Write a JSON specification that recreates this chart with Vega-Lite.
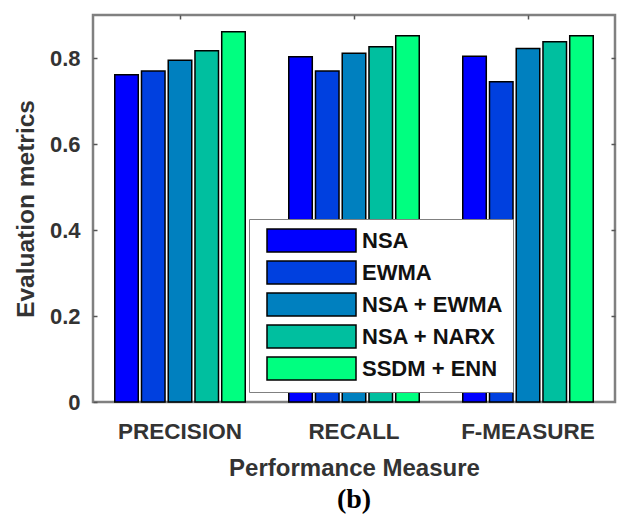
{
  "$schema": "https://vega.github.io/schema/vega-lite/v6.json",
  "width": 522,
  "height": 387,
  "autosize": {"type": "none"},
  "padding": {"left": 93, "top": 15, "right": 10, "bottom": 115},
  "background": "white",
  "title": {"text": "(b)", "orient": "bottom", "font": "Liberation Serif", "fontSize": 28, "fontWeight": "bold", "color": "black", "offset": 6},
  "config": {"view": {"stroke": "#808080", "strokeWidth": 2.5}},
  "data": {"values": [
    {"measure": "PRECISION", "method": "NSA", "value": 0.761},
    {"measure": "PRECISION", "method": "EWMA", "value": 0.770},
    {"measure": "PRECISION", "method": "NSA + EWMA", "value": 0.795},
    {"measure": "PRECISION", "method": "NSA + NARX", "value": 0.817},
    {"measure": "PRECISION", "method": "SSDM + ENN", "value": 0.861},
    {"measure": "RECALL", "method": "NSA", "value": 0.803},
    {"measure": "RECALL", "method": "EWMA", "value": 0.770},
    {"measure": "RECALL", "method": "NSA + EWMA", "value": 0.811},
    {"measure": "RECALL", "method": "NSA + NARX", "value": 0.826},
    {"measure": "RECALL", "method": "SSDM + ENN", "value": 0.852},
    {"measure": "F-MEASURE", "method": "NSA", "value": 0.804},
    {"measure": "F-MEASURE", "method": "EWMA", "value": 0.745},
    {"measure": "F-MEASURE", "method": "NSA + EWMA", "value": 0.822},
    {"measure": "F-MEASURE", "method": "NSA + NARX", "value": 0.838},
    {"measure": "F-MEASURE", "method": "SSDM + ENN", "value": 0.852}
  ]},
  "layer": [
    {
      "mark": {"type": "bar", "stroke": "black", "strokeWidth": 1.5},
      "encoding": {
        "x": {"field": "measure", "type": "nominal", "sort": ["PRECISION", "RECALL", "F-MEASURE"],
          "scale": {"paddingInner": 0.25, "paddingOuter": 0.125},
          "axis": {"title": "Performance Measure", "labelAngle": 0, "ticks": false, "tickSize": 0, "domain": false,
            "labelFont": "Liberation Sans", "labelFontSize": 22.5, "labelFontWeight": "bold", "labelColor": "#333333",
            "labelBaseline": "alphabetic", "labelPadding": 36,
            "titleFont": "Liberation Sans", "titleFontSize": 24, "titleFontWeight": "bold", "titleColor": "#333333",
            "titleBaseline": "alphabetic", "titleY": 73}},
        "xOffset": {"field": "method", "type": "nominal", "sort": ["NSA", "EWMA", "NSA + EWMA", "NSA + NARX", "SSDM + ENN"],
          "scale": {"paddingInner": 0.12, "paddingOuter": 0}},
        "y": {"field": "value", "type": "quantitative", "scale": {"domain": [0, 0.9], "nice": false},
          "axis": {"title": "Evaluation metrics", "values": [0, 0.2, 0.4, 0.6, 0.8], "format": "~g", "grid": false, "domain": false,
            "tickSize": -4, "tickColor": "#555555", "tickWidth": 1.5,
            "labelFont": "Liberation Sans", "labelFontSize": 22, "labelFontWeight": "bold", "labelColor": "#333333", "labelPadding": 17,
            "titleFont": "Liberation Sans", "titleFontSize": 24.5, "titleFontWeight": "bold", "titleColor": "#333333",
            "titleAngle": -90, "titleBaseline": "alphabetic", "titleAlign": "center", "titleX": -60, "titleY": 193.5}},
        "color": {"field": "method", "type": "nominal",
          "scale": {"domain": ["NSA", "EWMA", "NSA + EWMA", "NSA + NARX", "SSDM + ENN"], "range": ["#0000FF", "#0040DF", "#0080BF", "#00BF9F", "#00FF80"]},
          "legend": {"orient": "none", "legendX": 156, "legendY": 204, "title": null,
            "fillColor": "white", "strokeColor": "#808080", "padding": 9,
            "symbolType": "M-1,-1H6.74V1H-1Z", "symbolSize": 529, "symbolStrokeColor": "black", "symbolStrokeWidth": 1.5, "symbolOpacity": 1,
            "symbolOffset": 8,
            "labelFont": "Liberation Sans", "labelFontSize": 22, "labelFontWeight": "bold", "labelColor": "#111111",
            "labelOffset": 71, "rowPadding": 3, "labelLimit": 300}}
      }
    },
    {
      "mark": {"type": "point", "opacity": 0},
      "encoding": {
        "x": {"field": "measure", "type": "nominal", "sort": ["PRECISION", "RECALL", "F-MEASURE"],
          "axis": {"orient": "top", "labels": false, "title": null, "domain": false, "tickSize": -4, "tickColor": "#555555", "tickWidth": 1.5}},
        "y": {"field": "value", "type": "quantitative",
          "axis": {"orient": "right", "values": [0.2, 0.4, 0.6, 0.8], "labels": false, "title": null, "domain": false, "grid": false, "tickSize": -4, "tickColor": "#555555", "tickWidth": 1.5}}
      }
    }
  ],
  "resolve": {"axis": {"x": "independent", "y": "independent"}}
}
